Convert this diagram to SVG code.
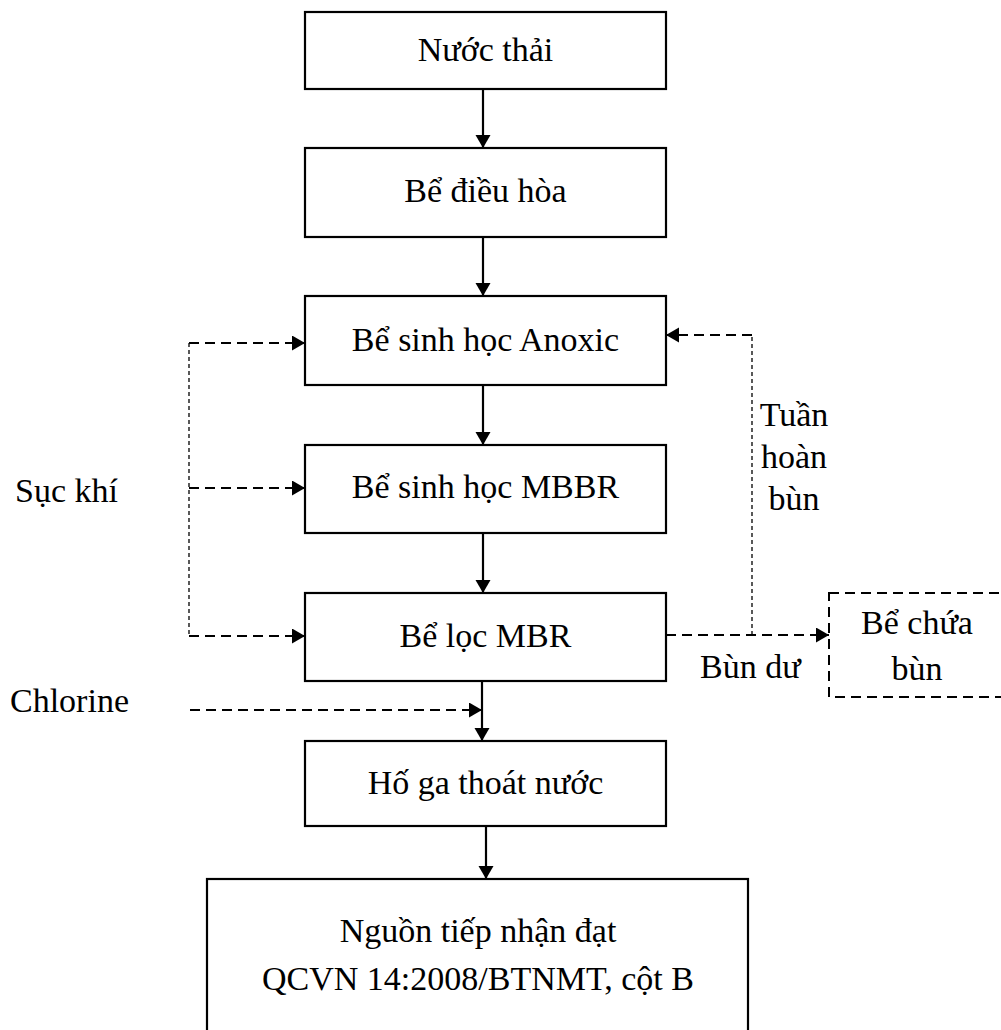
<svg xmlns="http://www.w3.org/2000/svg" width="1001" height="1030" viewBox="0 0 1001 1030">
  <style>
    text { font-family: "Liberation Serif", "Times New Roman", serif; font-size: 34px; fill: #000; }
    .box { fill: #fff; stroke: #000; stroke-width: 2.2; }
    .dbox { fill: none; stroke: #000; stroke-width: 2; stroke-dasharray: 10 6; }
    .flow { fill: none; stroke: #000; stroke-width: 2.2; }
    .dash { fill: none; stroke: #000; stroke-width: 2; stroke-dasharray: 10 6; }
    .thin { fill: none; stroke: #000; stroke-width: 1.3; stroke-dasharray: 4 3; }
    .c { text-anchor: middle; }
  </style>
  <defs>
    <marker id="arrow" markerUnits="userSpaceOnUse" markerWidth="14" markerHeight="16" refX="13" refY="7.5" orient="auto">
      <path d="M0,0 L13,7.5 L0,15 z" fill="#000"/>
    </marker>
  </defs>

  <!-- process nodes -->
  <g id="nuoc-thai">
    <rect class="box" x="305" y="12" width="361" height="77"/>
    <text class="c" x="485.5" y="61">Nước thải</text>
  </g>
  <g id="be-dieu-hoa">
    <rect class="box" x="305" y="148" width="361" height="89"/>
    <text class="c" x="485.5" y="202">Bể điều hòa</text>
  </g>
  <g id="be-anoxic">
    <rect class="box" x="305" y="296" width="361" height="89"/>
    <text class="c" x="485.5" y="351">Bể sinh học Anoxic</text>
  </g>
  <g id="be-mbbr">
    <rect class="box" x="305" y="445" width="361" height="88"/>
    <text class="c" x="485.5" y="498">Bể sinh học MBBR</text>
  </g>
  <g id="be-mbr">
    <rect class="box" x="305" y="593" width="361" height="88"/>
    <text class="c" x="485.5" y="647">Bể lọc MBR</text>
  </g>
  <g id="ho-ga">
    <rect class="box" x="305" y="741" width="361" height="85"/>
    <text class="c" x="485.5" y="794">Hố ga thoát nước</text>
  </g>
  <g id="nguon-tiep-nhan">
    <rect class="box" x="207" y="879" width="541" height="170"/>
    <text class="c" x="478" y="942">Nguồn tiếp nhận đạt</text>
    <text class="c" x="478" y="990">QCVN 14:2008/BTNMT, cột B</text>
  </g>
  <g id="be-chua-bun">
    <rect class="dbox" x="829" y="593" width="180" height="104"/>
    <text class="c" x="917" y="634">Bể chứa</text>
    <text class="c" x="917" y="680">bùn</text>
  </g>

  <!-- side labels -->
  <g id="labels">
    <text x="15" y="502">Sục khí</text>
    <text x="10" y="712">Chlorine</text>
    <text class="c" x="794" y="426">Tuần</text>
    <text class="c" x="794" y="468">hoàn</text>
    <text class="c" x="794" y="510">bùn</text>
    <text x="700" y="678">Bùn dư</text>
  </g>

  <!-- connectors -->
  <g id="connectors">
    <line class="flow" x1="483" y1="89" x2="483" y2="148" marker-end="url(#arrow)"/>
    <line class="flow" x1="483" y1="237" x2="483" y2="296" marker-end="url(#arrow)"/>
    <line class="flow" x1="483" y1="385" x2="483" y2="445" marker-end="url(#arrow)"/>
    <line class="flow" x1="483" y1="533" x2="483" y2="593" marker-end="url(#arrow)"/>
    <line class="flow" x1="482" y1="681" x2="482" y2="741" marker-end="url(#arrow)"/>
    <line class="flow" x1="486" y1="826" x2="486" y2="879" marker-end="url(#arrow)"/>

    <!-- aeration feed -->
    <line class="thin" x1="189" y1="343" x2="189" y2="636"/>
    <line class="dash" x1="189" y1="343" x2="305" y2="343" marker-end="url(#arrow)"/>
    <line class="dash" x1="189" y1="488" x2="305" y2="488" marker-end="url(#arrow)"/>
    <line class="dash" x1="189" y1="636" x2="305" y2="636" marker-end="url(#arrow)"/>

    <!-- sludge return and excess sludge -->
    <line class="dash" x1="666" y1="635" x2="829" y2="635" marker-end="url(#arrow)"/>
    <line class="thin" x1="752" y1="635" x2="752" y2="335"/>
    <line class="dash" x1="752" y1="335" x2="666" y2="335" marker-end="url(#arrow)"/>

    <!-- chlorine dosing -->
    <line class="dash" x1="190" y1="710" x2="482" y2="710" marker-end="url(#arrow)"/>
  </g>
</svg>
